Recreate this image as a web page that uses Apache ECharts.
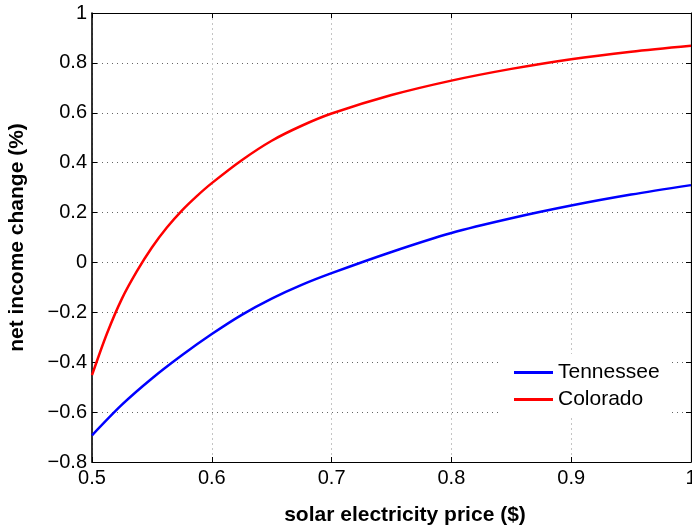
<!DOCTYPE html>
<html>
<head>
<meta charset="utf-8">
<script src="https://cdn.jsdelivr.net/npm/echarts@6/dist/echarts.min.js"></script>
<style>
html,body{margin:0;padding:0;background:#fff;}
#chart{width:692px;height:527px;}
</style>
</head>
<body>
<div id="chart"></div>
<script>
// Data read (estimated) from the reference picture
const seriesNames = ['Tennessee', 'Colorado'];
const tennesseePrice = [0.500, 0.525, 0.550, 0.575, 0.600, 0.625, 0.650, 0.675, 0.700, 0.750, 0.800, 0.850, 0.900, 0.950, 1.000];
const tennesseeValue = [-0.693, -0.570, -0.465, -0.372, -0.287, -0.210, -0.145, -0.090, -0.043, 0.042, 0.118, 0.177, 0.228, 0.272, 0.310];
const coloradoPrice = [0.500, 0.5125, 0.525, 0.5375, 0.550, 0.5625, 0.575, 0.5875, 0.600, 0.625, 0.650, 0.675, 0.700, 0.750, 0.800, 0.850, 0.900, 0.950, 1.000];
const coloradoValue = [-0.452, -0.285, -0.145, -0.035, 0.060, 0.140, 0.208, 0.266, 0.318, 0.410, 0.488, 0.548, 0.597, 0.671, 0.729, 0.776, 0.815, 0.845, 0.869];
const xTicks = [0.5, 0.6, 0.7, 0.8, 0.9, 1];
const yTicks = [-0.8, -0.6, -0.4, -0.2, 0, 0.2, 0.4, 0.6, 0.8, 1];

const xName = 'solar electricity price ($)';
const yName = 'net income change (%)';

function fmt(v) {
  const r = Math.round(v * 10) / 10;
  return String(r).replace('-', '\u2212');
}
function pairs(xs, ys) { return xs.map((x, i) => [x, ys[i]]); }

const FONT = '"Liberation Sans", Arial, Helvetica, sans-serif';

const chart = echarts.init(document.getElementById('chart'));
const axisLineStyle = { color: '#000', width: 1.2 };
chart.setOption({
  animation: false,
  backgroundColor: '#fff',
  grid: { left: 92, right: 1, top: 13, bottom: 65, containLabel: false, outerBoundsMode: 'none' },
  xAxis: [{
    type: 'value', min: 0.5, max: 1, interval: 0.1, position: 'bottom',
    name: xName, nameLocation: 'middle', nameGap: 43,
    nameTextStyle: { fontFamily: FONT, fontSize: 21, fontWeight: 'bold', color: '#000', padding: [0, 0, 0, 27] },
    axisLine: { show: true, onZero: false, lineStyle: axisLineStyle },
    axisTick: { show: true, inside: true, length: 5, lineStyle: { color: '#000' } },
    axisLabel: { show: true, margin: 6, fontFamily: FONT, fontSize: 20, color: '#000', formatter: fmt, showMinLabel: true, showMaxLabel: true },
    splitLine: { show: true, lineStyle: { color: '#c4c4c4', type: [2, 3], width: 1 } }
  }, {
    type: 'value', min: 0.5, max: 1, interval: 0.1, position: 'top',
    axisLine: { show: true, onZero: false, lineStyle: axisLineStyle },
    axisTick: { show: true, inside: true, length: 5, lineStyle: { color: '#000' } },
    axisLabel: { show: false }, splitLine: { show: false }
  }],
  yAxis: [{
    type: 'value', min: -0.8, max: 1, interval: 0.2, position: 'left',
    name: yName, nameLocation: 'middle', nameGap: 64, nameRotate: 90,
    nameTextStyle: { fontFamily: FONT, fontSize: 21, fontWeight: 'bold', color: '#000' },
    axisLine: { show: true, onZero: false, lineStyle: { color: '#000', width: 1.6 } },
    axisTick: { show: true, inside: true, length: 5, lineStyle: { color: '#000' } },
    axisLabel: { show: true, margin: 5, fontFamily: FONT, fontSize: 20, color: '#000', formatter: fmt },
    splitLine: { show: true, lineStyle: { color: '#666', type: [1, 4], width: 1 } }
  }, {
    type: 'value', min: -0.8, max: 1, interval: 0.2, position: 'right',
    axisLine: { show: true, onZero: false, lineStyle: axisLineStyle },
    axisTick: { show: true, inside: true, length: 5, lineStyle: { color: '#000' } },
    axisLabel: { show: false }, splitLine: { show: false }
  }],
  legend: {
    data: seriesNames,
    orient: 'vertical',
    left: 502, top: 354,
    padding: [8, 12, 8, 12],
    itemGap: 6,
    itemWidth: 39, itemHeight: 3,
    icon: 'rect',
    backgroundColor: '#fff',
    textStyle: { fontFamily: FONT, fontSize: 21, color: '#000' }
  },
  series: [{
    name: seriesNames[0], type: 'line', xAxisIndex: 0, yAxisIndex: 0,
    data: pairs(tennesseePrice, tennesseeValue),
    smooth: 0.3, showSymbol: false, symbol: 'none',
    lineStyle: { color: '#0000ff', width: 2.5 }, itemStyle: { color: '#0000ff' }
  }, {
    name: seriesNames[1], type: 'line', xAxisIndex: 0, yAxisIndex: 0,
    data: pairs(coloradoPrice, coloradoValue),
    smooth: 0.3, showSymbol: false, symbol: 'none',
    lineStyle: { color: '#ff0000', width: 2.5 }, itemStyle: { color: '#ff0000' }
  }]
});
</script>
</body>
</html>
